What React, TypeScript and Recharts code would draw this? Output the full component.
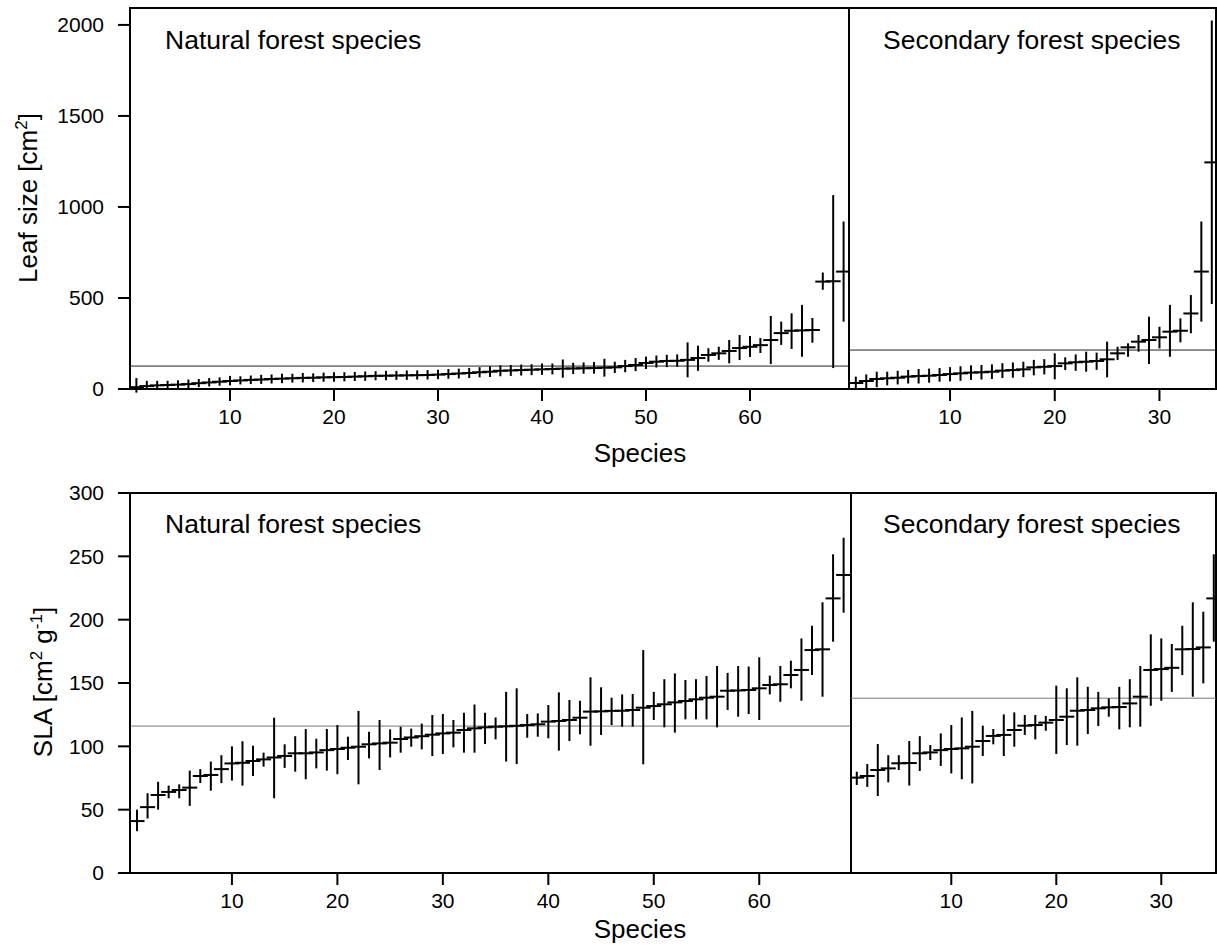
import React from 'react';
import { ScatterChart, Scatter, XAxis, YAxis, ErrorBar, ReferenceLine, ReferenceArea } from 'recharts';

// Leaf size, natural forest species (69)
const natLeafMean = [10, 16, 20, 22, 24, 27, 32, 36, 40, 44, 47, 50, 52, 55, 57, 59, 61, 62, 64, 65, 66, 68, 70, 72, 73, 74, 75, 76, 77, 79, 82, 85, 88, 92, 95, 100, 102, 104, 106, 108, 110, 112, 113, 114, 115, 117, 119, 126, 132, 143, 150, 154, 155, 160, 170, 187, 196, 209, 225, 232, 241, 269, 307, 320, 322, 324, 590, 592, 645];
const natLeafLo = [-20, -5, 0, 2, 3, 5, 10, 14, 18, 20, 25, 27, 28, 30, 32, 35, 36, 38, 40, 40, 42, 44, 45, 48, 48, 50, 50, 52, 52, 54, 56, 58, 60, 64, 66, 70, 72, 74, 76, 78, 80, 62, 82, 84, 84, 68, 88, 92, 98, 110, 118, 120, 122, 64, 100, 150, 160, 141, 159, 176, 198, 137, 242, 220, 177, 254, 545, 115, 370];
const natLeafHi = [60, 45, 45, 45, 48, 52, 55, 60, 64, 72, 70, 74, 78, 80, 84, 84, 88, 86, 90, 92, 92, 94, 96, 98, 100, 100, 102, 102, 104, 106, 110, 112, 116, 120, 124, 130, 132, 134, 136, 140, 140, 162, 144, 146, 148, 166, 150, 160, 170, 178, 184, 188, 190, 256, 238, 224, 232, 269, 297, 291, 280, 401, 370, 416, 462, 390, 640, 1065, 920];

// Leaf size, secondary forest species (35)
const secLeafMean = [33, 44, 55, 59, 62, 68, 71, 73, 77, 82, 86, 90, 92, 95, 101, 104, 108, 119, 122, 126, 141, 147, 150, 154, 163, 196, 229, 260, 269, 284, 315, 320, 415, 645, 1245];
const secLeafLo = [4, 5, 10, 20, 25, 30, 30, 35, 40, 42, 45, 50, 52, 55, 60, 62, 65, 75, 80, 53, 104, 100, 95, 105, 64, 159, 177, 205, 137, 223, 177, 256, 306, 370, 467];
const secLeafHi = [68, 80, 95, 95, 100, 105, 110, 112, 115, 120, 125, 130, 132, 135, 142, 146, 150, 160, 164, 196, 174, 190, 205, 200, 260, 232, 251, 297, 397, 342, 462, 388, 516, 920, 2024];

// SLA, natural forest species (68)
const natSlaMean = [41, 52, 61.6, 64, 65.5, 67.4, 76.6, 77.4, 82, 86.5, 87, 88.4, 89.7, 91.2, 92.4, 94.5, 94.5, 95.2, 97, 97.9, 98.9, 99.7, 101.6, 102.3, 102.9, 105.8, 107, 108, 109.2, 110.2, 110.8, 112.9, 114.2, 115, 115.5, 115.8, 116.2, 116.8, 117.4, 119.5, 120, 120.8, 122.6, 127.4, 127.6, 128, 128.1, 128.7, 130.5, 131.8, 133.2, 134.7, 135.8, 137.1, 138.4, 139.2, 143.9, 144.1, 144.5, 145.8, 148.4, 149, 156.3, 160.3, 176, 176.6, 216.8, 235.3];
const natSlaLo = [33, 43, 50, 59, 59, 53, 71, 65, 71, 73, 69, 76.6, 84, 59, 83, 80, 74, 82.6, 80.8, 78, 89.2, 70, 90.5, 81.3, 91.2, 95, 99.7, 97.6, 92.4, 94, 99.2, 95, 95, 101.8, 105.5, 88, 86, 106.8, 107.6, 106.3, 96.6, 104.2, 109.5, 100.5, 109, 116.8, 115.5, 115.5, 85.8, 120.8, 115, 110.8, 121.3, 121.3, 121.3, 115, 128.7, 123.4, 125.5, 120.8, 141, 135.2, 145.8, 136, 156.3, 139.2, 182.6, 205.5];
const natSlaHi = [50, 63, 72, 69, 70, 80.8, 82, 88, 93, 100, 104, 100.5, 95, 122.6, 101.6, 108, 113.7, 106, 113.7, 116.8, 107.6, 128, 111.5, 120.8, 113.4, 115.5, 114, 118, 124.7, 125.5, 120.8, 126.5, 133, 126.5, 122.8, 143, 145.8, 125.5, 126, 132.6, 142.6, 136.6, 136, 154.5, 146.6, 138.4, 141, 141.3, 176, 143, 153, 157.6, 152.4, 153, 155.5, 163.4, 158, 163.4, 163, 170.3, 155.8, 163.4, 167.6, 185.2, 195.2, 213.7, 251.6, 264.7];

// SLA, secondary forest species (35)
const secSlaMean = [75.3, 76.6, 81.3, 82.6, 86.6, 86.8, 94.5, 95.2, 97, 97.9, 98.4, 99.7, 104.2, 108.2, 109, 112.9, 116.3, 116.8, 118.7, 120.8, 123.4, 128.1, 128.7, 130, 130.8, 131, 133.9, 139.2, 160.3, 161, 162, 176.6, 176.8, 178.1, 216.8];
const secSlaLo = [69.5, 68, 60.8, 71.6, 81.3, 69, 80.5, 89.2, 84.5, 78.6, 74, 70.7, 92.4, 101.6, 92.4, 99.7, 109, 105.5, 112.3, 94, 101, 100.5, 109.7, 116, 123.4, 113.4, 115, 115.5, 132, 136, 143, 156.3, 139.2, 149.7, 182.6];
const secSlaHi = [80, 86, 101.8, 93, 93, 104.2, 108, 101, 110.2, 116.8, 122.8, 128, 116.3, 113.7, 125.2, 126.8, 124.7, 124.7, 124, 147.9, 145.8, 154.5, 147, 143, 137.8, 147, 153, 163.4, 188.4, 185.2, 180.8, 195.2, 213.7, 206.3, 251.6];

// overall means (reference lines)
const refLines = { natLeaf: 126, secLeaf: 214, natSla: 116, secSla: 138 };

const leafTicks = [0, 500, 1000, 1500, 2000];
const slaTicks = [0, 50, 100, 150, 200, 250, 300];
const natXTicks = [10, 20, 30, 40, 50, 60];
const secXTicks = [10, 20, 30];

const titleNatural = 'Natural forest species';
const titleSecondary = 'Secondary forest species';

const FONT = '"Liberation Sans", Arial, Helvetica, sans-serif';

function build(mean: number[], lo: number[], hi: number[]) {
  return mean.map((m, i) => ({ x: i + 1, y: m, err: [m - lo[i], hi[i] - m] }));
}

const Cross = (p: any) => {
  if (p.cx == null || p.cy == null) return <g />;
  return <line x1={p.cx - 7.5} x2={p.cx + 7.5} y1={p.cy} y2={p.cy} stroke="#000" strokeWidth={2} />;
};

type PanelProps = {
  left: number; top: number; width: number; height: number;
  margin: { top: number; right: number; bottom: number; left: number };
  data: any[]; xDomain: [number, number]; yDomain: [number, number];
  xTicks: number[]; yTicks: number[]; showY: boolean; refY: number; refColor: string;
};

function Panel(p: PanelProps) {
  const tickStyle = { fill: '#000', fontSize: 21, fontFamily: FONT };
  return (
    <div style={{ position: 'absolute', left: p.left, top: p.top, width: p.width, height: p.height }}>
      <ScatterChart width={p.width} height={p.height} margin={p.margin}>
        <XAxis
          type="number" dataKey="x" domain={p.xDomain} allowDataOverflow ticks={p.xTicks}
          tick={tickStyle} tickSize={12} tickMargin={8} height={40}
          axisLine={{ stroke: '#000', strokeWidth: 2 }} tickLine={{ stroke: '#000', strokeWidth: 2 }}
        />
        <YAxis
          type="number" dataKey="y" domain={p.yDomain} allowDataOverflow ticks={p.yTicks}
          hide={!p.showY} width={p.showY ? 130 : 0}
          tick={tickStyle} tickSize={12} tickMargin={14}
          axisLine={{ stroke: '#000', strokeWidth: 2 }} tickLine={{ stroke: '#000', strokeWidth: 2 }}
        />
        <ReferenceArea x1={p.xDomain[0]} x2={p.xDomain[1]} y1={p.yDomain[0]} y2={p.yDomain[1]}
          fill="none" stroke="#000" strokeWidth={2} fillOpacity={0} ifOverflow="visible" />
        <ReferenceLine y={p.refY} stroke={p.refColor} strokeWidth={1} ifOverflow="visible" />
        <Scatter data={p.data} shape={Cross} isAnimationActive={false}>
          <ErrorBar dataKey="err" direction="y" width={0} stroke="#000" strokeWidth={2} isAnimationActive={false} />
        </Scatter>
      </ScatterChart>
    </div>
  );
}

export default function App() {
  const leafDomain: [number, number] = [0, 2093];
  const slaDomain: [number, number] = [0, 300];
  return (
    <div style={{ position: 'absolute', left: 0, top: 0, width: 1217, height: 946, background: '#fff', fontFamily: FONT, overflow: 'hidden' }}>
      <Panel left={0} top={0} width={860} height={440}
        margin={{ top: 8, right: 11, bottom: 11, left: 0 }}
        data={build(natLeafMean, natLeafLo, natLeafHi)} xDomain={[0.385, 69.52]} yDomain={leafDomain}
        xTicks={natXTicks} yTicks={leafTicks} showY refY={refLines.natLeaf} refColor="#222" />
      <Panel left={840} top={0} width={377} height={440}
        margin={{ top: 8, right: 1, bottom: 11, left: 9 }}
        data={build(secLeafMean, secLeafLo, secLeafHi)} xDomain={[0.35, 35.4]} yDomain={leafDomain}
        xTicks={secXTicks} yTicks={leafTicks} showY={false} refY={refLines.secLeaf} refColor="#222" />
      <Panel left={0} top={470} width={860} height={476}
        margin={{ top: 23, right: 9, bottom: 33, left: 0 }}
        data={build(natSlaMean, natSlaLo, natSlaHi)} xDomain={[0.335, 68.7]} yDomain={slaDomain}
        xTicks={natXTicks} yTicks={slaTicks} showY refY={refLines.natSla} refColor="#777" />
      <Panel left={840} top={470} width={377} height={476}
        margin={{ top: 23, right: 1, bottom: 33, left: 11 }}
        data={build(secSlaMean, secSlaLo, secSlaHi)} xDomain={[0.45, 35.21]} yDomain={slaDomain}
        xTicks={secXTicks} yTicks={slaTicks} showY={false} refY={refLines.secSla} refColor="#777" />
      <svg width={1217} height={946} style={{ position: 'absolute', left: 0, top: 0, pointerEvents: 'none' }}
        fontFamily={FONT} fill="#000">
        <text x={165} y={49} fontSize={26.5}>{titleNatural}</text>
        <text x={883} y={49} fontSize={26.5}>{titleSecondary}</text>
        <text x={165} y={533} fontSize={26.5}>{titleNatural}</text>
        <text x={883} y={533} fontSize={26.5}>{titleSecondary}</text>
        <text x={640} y={462} fontSize={26} textAnchor="middle">Species</text>
        <text x={640} y={938} fontSize={26} textAnchor="middle">Species</text>
        <text transform="translate(37,198) rotate(-90)" fontSize={26} textAnchor="middle">
          Leaf size [cm<tspan dy={-10} fontSize={17}>2</tspan><tspan dy={10}>]</tspan>
        </text>
        <text transform="translate(52,682) rotate(-90)" fontSize={26} textAnchor="middle">
          SLA [cm<tspan dy={-10} fontSize={17}>2</tspan><tspan dy={10}> g</tspan><tspan dy={-10} fontSize={17}>-1</tspan><tspan dy={10}>]</tspan>
        </text>
      </svg>
    </div>
  );
}
